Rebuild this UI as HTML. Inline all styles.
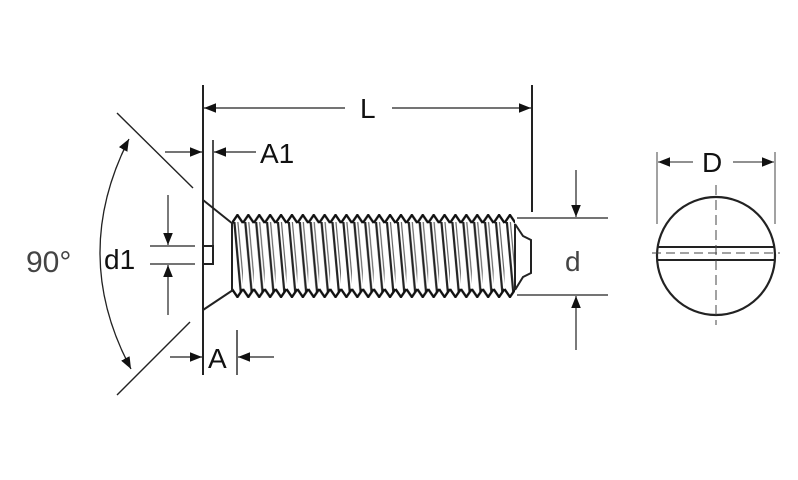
<!DOCTYPE html>
<html><head><meta charset="utf-8"><style>
html,body{margin:0;padding:0;background:#fff;}
svg{display:block}
text{font-family:"Liberation Sans",sans-serif;}
</style></head><body>
<svg width="798" height="480" viewBox="0 0 798 480" xmlns="http://www.w3.org/2000/svg">
<defs>
<marker id="ar" viewBox="0 0 10 10" refX="10" refY="5" markerWidth="12" markerHeight="12" markerUnits="userSpaceOnUse" orient="auto"><path d="M0,1 L10,5 L0,9 z" fill="#111"/></marker>
<pattern id="thr" x="232" y="0" width="10.9" height="480" patternUnits="userSpaceOnUse">
<line x1="2" y1="218" x2="9" y2="295" stroke="#222" stroke-width="2.2"/>
<line x1="5.5" y1="218" x2="12.5" y2="295" stroke="#666" stroke-width="1.2"/>
</pattern>
<pattern id="tt" x="232" y="214" width="10.9" height="10" patternUnits="userSpaceOnUse">
<path d="M0,9 L5.45,1 L10.9,9" fill="none" stroke="#111" stroke-width="2.4"/>
</pattern>
<pattern id="tb" x="232" y="288" width="10.9" height="10" patternUnits="userSpaceOnUse">
<path d="M0,1 L5.45,9 L10.9,1" fill="none" stroke="#111" stroke-width="2.4"/>
</pattern>
</defs>
<rect width="798" height="480" fill="#fff"/>
<g stroke="#222" fill="none" stroke-width="1.6">
<line x1="203" y1="85" x2="203" y2="375" stroke-width="2"/>
<line x1="213" y1="140" x2="213" y2="246"/>
<path d="M203,200 L233,224 M203,310 L233,290 M203,246 L213,246 L213,264 L203,264" stroke-width="2"/>
<rect x="232" y="222" width="283" height="70" fill="url(#thr)" stroke="none"/>
<rect x="232" y="214" width="283" height="10" fill="url(#tt)" stroke="none"/>
<rect x="232" y="288" width="283" height="10" fill="url(#tb)" stroke="none"/>
<line x1="232" y1="222" x2="232" y2="292" stroke-width="2"/>
<path d="M515,224 L523,236 L531,240 L531,273 L523,277 L515,290" stroke-width="2"/>
<line x1="515" y1="224" x2="515" y2="290" stroke-width="2"/>
<line x1="532" y1="85" x2="532" y2="212" stroke-width="2"/>
<line x1="345" y1="108" x2="204" y2="108" marker-end="url(#ar)" stroke-width="1.2"/>
<line x1="392" y1="108" x2="531" y2="108" marker-end="url(#ar)" stroke-width="1.2"/>
<line x1="165" y1="152" x2="202" y2="152" marker-end="url(#ar)" stroke-width="1.2"/>
<line x1="256" y1="152" x2="214" y2="152" marker-end="url(#ar)" stroke-width="1.2"/>
<line x1="117" y1="113" x2="193" y2="188" stroke-width="1.4"/>
<line x1="190" y1="322" x2="117" y2="395" stroke-width="1.4"/>
<path d="M129,139 Q70,255 131,369" stroke-width="1.3" marker-end="url(#ar)"/>
<path d="M100,254 Q106,180 129,139" stroke="none" marker-end="url(#ar)"/>
<line x1="150" y1="246" x2="195" y2="246" stroke-width="1.2"/>
<line x1="150" y1="264" x2="195" y2="264" stroke-width="1.2"/>
<line x1="168" y1="195" x2="168" y2="245" marker-end="url(#ar)" stroke-width="1.2"/>
<line x1="168" y1="315" x2="168" y2="265" marker-end="url(#ar)" stroke-width="1.2"/>
<line x1="237" y1="330" x2="237" y2="375" stroke-width="1.4"/>
<line x1="170" y1="357" x2="202" y2="357" marker-end="url(#ar)" stroke-width="1.2"/>
<line x1="274" y1="357" x2="238" y2="357" marker-end="url(#ar)" stroke-width="1.2"/>
<line x1="517" y1="218" x2="608" y2="218" stroke-width="1.2"/>
<line x1="517" y1="295" x2="608" y2="295" stroke-width="1.2"/>
<line x1="576" y1="170" x2="576" y2="217" marker-end="url(#ar)" stroke-width="1.2"/>
<line x1="576" y1="350" x2="576" y2="296" marker-end="url(#ar)" stroke-width="1.2"/>
<line x1="657" y1="152" x2="657" y2="224" stroke-width="1.1" stroke="#555"/>
<line x1="775" y1="152" x2="775" y2="224" stroke-width="1.1" stroke="#555"/>
<line x1="693" y1="162" x2="658" y2="162" marker-end="url(#ar)" stroke-width="1.1"/>
<line x1="733" y1="162" x2="774" y2="162" marker-end="url(#ar)" stroke-width="1.1"/>
<circle cx="716" cy="256" r="59" stroke-width="2.2"/>
<line x1="658" y1="247" x2="774" y2="247" stroke-width="2"/>
<line x1="658" y1="260" x2="774" y2="260" stroke-width="2"/>
<line x1="652" y1="253" x2="780" y2="253" stroke-width="1" stroke-dasharray="9,5" stroke="#444"/>
<line x1="716" y1="185" x2="716" y2="325" stroke-width="1" stroke-dasharray="10,5" stroke="#444"/>
</g>
<g fill="#111" font-size="28">
<text x="360" y="118">L</text>
<text x="260" y="163">A1</text>
<text x="208" y="368">A</text>
<text x="104" y="269">d1</text>
<text x="26" y="272" fill="#444" font-size="30">90°</text>
<text x="565" y="271" fill="#444">d</text>
<text x="702" y="172">D</text>
</g>
</svg>
</body></html>
